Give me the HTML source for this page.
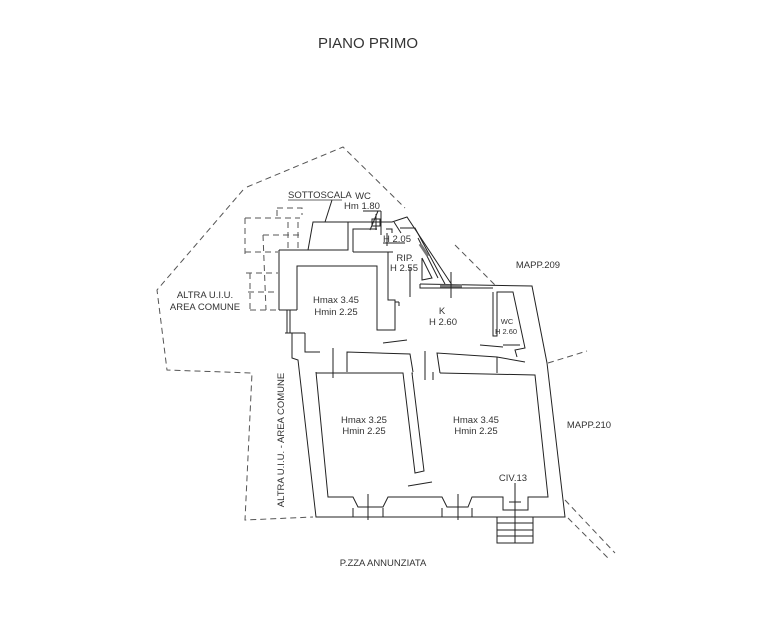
<!DOCTYPE html>
<html><head><meta charset="utf-8"><style>
html,body{margin:0;padding:0;background:#fff;}
svg{display:block;}
text{font-family:"Liberation Sans",Arial,sans-serif;fill:#333;}
</style></head><body>
<svg width="770" height="630" viewBox="0 0 770 630" xmlns="http://www.w3.org/2000/svg">
<rect width="770" height="630" fill="#fff"/>
<text x="368" y="48" font-size="15" text-anchor="middle" fill="#222">PIANO PRIMO</text>

<!-- dashed boundaries -->
<g fill="none" stroke="#555" stroke-width="1" stroke-dasharray="6,4">
<polyline points="243,190 157,290 167,370 252,373 245,520 313,517"/>
<polyline points="247,187 343,147 405,208"/>
<line x1="455" y1="245" x2="495" y2="285"/>
<line x1="548" y1="363" x2="587" y2="351"/>
<line x1="565" y1="500" x2="615" y2="553"/>
<line x1="568" y1="518" x2="610" y2="560"/>
<!-- stair grid -->
<polyline points="245,218 300,218"/>
<polyline points="263,235 300,235"/>
<polyline points="245,252 278,252"/>
<polyline points="246,273 278,273"/>
<polyline points="248,292 278,292"/>
<polyline points="250,310 278,310"/>
<polyline points="277,208 302,208 302,215"/>
<line x1="245" y1="218" x2="245" y2="255"/>
<line x1="250" y1="273" x2="250" y2="312"/>
<line x1="263" y1="235" x2="266" y2="310"/>
<line x1="277" y1="210" x2="277" y2="218"/>
<line x1="288" y1="222" x2="288" y2="248"/>
<line x1="298" y1="222" x2="298" y2="248"/>
</g>

<g fill="none" stroke="#222" stroke-width="1">
<!-- outer wall -->
<polyline points="279,250 279,310"/>
<polyline points="292,333 292,358 298,360 316,517 565,517 547,363 532,286 420,284"/>
<line x1="279" y1="310" x2="297" y2="310"/>
<line x1="285" y1="333" x2="305" y2="333"/>
<line x1="287" y1="310" x2="287" y2="333"/>
<line x1="290" y1="310" x2="290" y2="333"/>
<!-- top rooms -->
<polyline points="279,250 348,250 348,222 313,222 308,250"/>
<polyline points="348,222 392,222 407,217 452,285"/>
<polyline points="353,252 393,252 388,252"/>
<polyline points="353,252 353,229 377,229"/>
<polyline points="386,229 392,229 392,233"/>
<line x1="387" y1="233" x2="387" y2="246"/>
<line x1="383" y1="243" x2="405" y2="243"/>
<rect x="372" y="219" width="8" height="7"/>
<line x1="376" y1="214" x2="376" y2="230"/>
<line x1="325" y1="222" x2="332" y2="200"/>
<line x1="370" y1="230" x2="378" y2="211"/>
<line x1="381" y1="235" x2="381" y2="211"/>
<line x1="363" y1="211" x2="381" y2="211"/>
<line x1="394" y1="222" x2="401" y2="233"/>
<!-- corridor -->
<polyline points="400,228 415,228 445,284"/>
<polyline points="418,238 438,278"/>
<polyline points="422,258 432,278 422,280 422,258"/>
<line x1="420" y1="244" x2="428" y2="256" stroke-width="3" stroke="#777"/>
<polyline points="393,252 388,252 388,300 395,300 395,330 377,330 377,266 297,266 297,310"/>
<line x1="410" y1="267" x2="410" y2="297"/>
<line x1="395" y1="302" x2="399" y2="302"/>
<line x1="399" y1="302" x2="399" y2="306"/>
<!-- K top -->
<polyline points="420,284 420,288 493,288"/>
<line x1="440" y1="286" x2="462" y2="286" stroke="#777" stroke-width="3"/>
<line x1="451" y1="272" x2="451" y2="298"/>
<!-- WC -->
<polyline points="493,292 493,336 497,336 497,292 513,292 525,348 515,350 517,357"/>
<line x1="503" y1="345" x2="520" y2="345"/>
<!-- left/lower walls -->
<polyline points="305,333 305,352 320,352"/>
<line x1="383" y1="343" x2="407" y2="340"/>
<line x1="480" y1="345" x2="503" y2="347"/>
<polyline points="347,372 347,352 410,354 413,372"/>
<line x1="333" y1="348" x2="333" y2="378"/>
<line x1="425" y1="351" x2="425" y2="380"/>
<polyline points="440,373 437,353 497,357 525,362"/>
<line x1="497" y1="357" x2="497" y2="373"/>
<line x1="433" y1="372" x2="433" y2="380"/>
<!-- lower rooms -->
<polyline points="316,373 403,373 415,473 424,471 412,373 413,373"/>
<polyline points="316,372 328,497 353,497 358,507 383,507 388,497 442,497 447,507 468,507 472,497 503,497 503,510 528,510 528,497 548,497 535,375 440,373"/>
<line x1="408" y1="486" x2="432" y2="482"/>
<line x1="353" y1="508" x2="353" y2="517"/>
<line x1="383" y1="508" x2="383" y2="517"/>
<line x1="368" y1="494" x2="368" y2="520"/>
<line x1="442" y1="508" x2="442" y2="517"/>
<line x1="472" y1="508" x2="472" y2="517"/>
<line x1="458" y1="494" x2="458" y2="520"/>
<!-- entry + stairs -->
<rect x="497" y="517" width="36" height="26"/>
<line x1="497" y1="523" x2="533" y2="523"/>
<line x1="497" y1="530" x2="533" y2="530"/>
<line x1="497" y1="536" x2="533" y2="536"/>
<line x1="515" y1="483" x2="515" y2="543"/>
<line x1="509" y1="502" x2="521" y2="502"/>
</g>

<text x="288" y="198" font-size="9.5">SOTTOSCALA</text>
<line x1="288" y1="200" x2="342" y2="200" stroke="#333" stroke-width="0.8"/>
<text x="363" y="199" font-size="9.5" text-anchor="middle">WC</text>
<text x="362" y="209" font-size="9.5" text-anchor="middle">Hm 1.80</text>
<text x="383" y="242" font-size="9.5">H 2.05</text>
<text x="405" y="261" font-size="9.5" text-anchor="middle">RIP.</text>
<text x="404" y="271" font-size="9.5" text-anchor="middle">H 2.55</text>
<text x="538" y="268" font-size="9.5" text-anchor="middle">MAPP.209</text>
<text x="205" y="298" font-size="9.5" text-anchor="middle">ALTRA U.I.U.</text>
<text x="205" y="310" font-size="9.5" text-anchor="middle">AREA COMUNE</text>
<text x="336" y="303" font-size="9.5" text-anchor="middle">Hmax 3.45</text>
<text x="336" y="315" font-size="9.5" text-anchor="middle">Hmin 2.25</text>
<text x="442" y="314" font-size="9.5" text-anchor="middle">K</text>
<text x="443" y="325" font-size="9.5" text-anchor="middle">H 2.60</text>
<text x="507" y="324" font-size="7.5" text-anchor="middle">WC</text>
<text x="506" y="334" font-size="7.5" text-anchor="middle">H 2.60</text>
<text x="364" y="423" font-size="9.5" text-anchor="middle">Hmax 3.25</text>
<text x="364" y="434" font-size="9.5" text-anchor="middle">Hmin 2.25</text>
<text x="476" y="423" font-size="9.5" text-anchor="middle">Hmax 3.45</text>
<text x="476" y="434" font-size="9.5" text-anchor="middle">Hmin 2.25</text>
<text x="589" y="428" font-size="9.5" text-anchor="middle">MAPP.210</text>
<text x="513" y="481" font-size="9.5" text-anchor="middle">CIV.13</text>
<text x="383" y="566" font-size="9.5" text-anchor="middle">P.ZZA ANNUNZIATA</text>
<text transform="translate(284,440) rotate(-90)" font-size="9.5" text-anchor="middle">ALTRA U.I.U. - AREA COMUNE</text>
</svg>
</body></html>
